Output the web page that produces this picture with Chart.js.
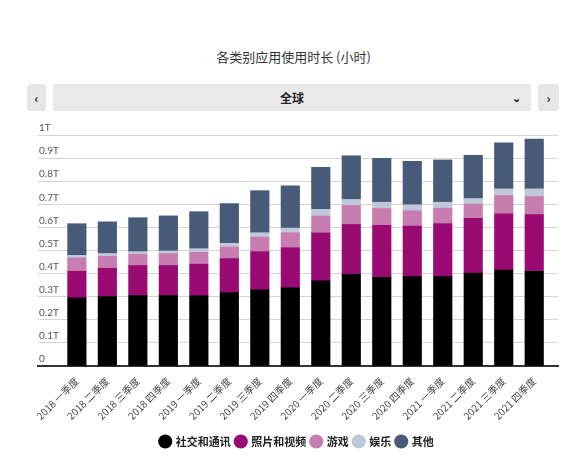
<!DOCTYPE html>
<html lang="zh">
<head>
  <meta charset="UTF-8">
  <title>各类别应用使用时长</title>
  <script src="https://cdn.jsdelivr.net/npm/chart.js"></script>
  <style>
    body { margin: 0; width: 587px; height: 470px; background: #fff; position: relative; overflow: hidden;
           font-family: "Noto Sans CJK SC", "Noto Sans", sans-serif; color: #333; }
    .title { position: absolute; top: 47px; left: 0; width: 587px; text-align: center; font-size: 13px; }
    .btn, .region { position: absolute; top: 84px; height: 27px; background: #e6e6e6; border-radius: 3px;
                    line-height: 27px; text-align: center; font-size: 12px; font-weight: bold; color: #222; }
    .region { left: 53px; width: 478px; background: #e9e9e9; }
    .region .arrow { position: absolute; right: 10px; top: 0; font-size: 11px; }
    #prev { left: 27px; width: 19px; }
    #next { left: 538px; width: 21px; }
    .wrap { position: absolute; left: 0; top: 115px; width: 587px; height: 355px; }
  </style>
</head>
<body>
  <div class="title">各类别应用使用时长 (小时)</div>
  <div class="btn" id="prev">&lsaquo;</div>
  <div class="region">全球<span class="arrow">&#8964;</span></div>
  <div class="btn" id="next">&rsaquo;</div>

  <div class="wrap"><canvas id="usageChart"></canvas></div>

  <script>
    // 季度
    const quarters = [
      '2018 一季度', '2018 二季度', '2018 三季度', '2018 四季度',
      '2019 一季度', '2019 二季度', '2019 三季度', '2019 四季度',
      '2020 一季度', '2020 二季度', '2020 三季度', '2020 四季度',
      '2021 一季度', '2021 二季度', '2021 三季度', '2021 四季度'
    ];

    // 单位：T（小时）
    const social = [0.295, 0.301, 0.305, 0.305, 0.304, 0.318, 0.330, 0.338, 0.369, 0.397, 0.384, 0.387, 0.387, 0.402, 0.415, 0.410];
    const photoVideo = [0.115, 0.122, 0.130, 0.130, 0.137, 0.147, 0.165, 0.174, 0.207, 0.216, 0.225, 0.219, 0.230, 0.237, 0.244, 0.245];
    const games = [0.058, 0.052, 0.049, 0.052, 0.051, 0.050, 0.063, 0.065, 0.073, 0.082, 0.073, 0.066, 0.066, 0.062, 0.079, 0.079];
    const entertainment = [0.011, 0.012, 0.011, 0.011, 0.016, 0.016, 0.019, 0.020, 0.029, 0.026, 0.027, 0.026, 0.026, 0.024, 0.029, 0.033];
    const others = [0.137, 0.137, 0.147, 0.152, 0.160, 0.172, 0.182, 0.183, 0.182, 0.189, 0.190, 0.188, 0.183, 0.187, 0.199, 0.215];

    const yTicks = [0, 0.1, 0.2, 0.3, 0.4, 0.5, 0.6, 0.7, 0.8, 0.9, 1];

    const series = [
      { label: '社交和通讯', data: social, color: '#000000' },
      { label: '照片和视频', data: photoVideo, color: '#990a73' },
      { label: '游戏', data: games, color: '#c87db0' },
      { label: '娱乐', data: entertainment, color: '#bfc8d8' },
      { label: '其他', data: others, color: '#475a78' }
    ];

    const ctx = document.getElementById('usageChart').getContext('2d');

    new Chart(ctx, {
      type: 'bar',
      data: {
        datasets: series.map(s => ({
          label: s.label,
          data: s.data.map((v, i) => ({ x: i, y: v })),
          backgroundColor: s.color,
          borderWidth: 0,
          barThickness: 18.5
        }))
      },
      options: {
        responsive: true,
        maintainAspectRatio: false,
        animation: false,
        layout: { padding: { left: 36, right: 29, top: 20, bottom: 13 } },
        plugins: {
          tooltip: { enabled: false },
          legend: {
            position: 'bottom',
            labels: {
              usePointStyle: true,
              pointStyle: 'circle',
              boxWidth: 10,
              boxHeight: 10,
              padding: 5,
              color: '#222',
              font: { size: 11, weight: 'bold', family: '"Noto Sans CJK SC", sans-serif' }
            }
          }
        },
        scales: {
          x: {
            type: 'linear',
            stacked: true,
            offset: false,
            min: -1.275,
            max: 15.78,
            afterBuildTicks: axis => { axis.ticks = quarters.map((q, i) => ({ value: i })); },
            afterFit: axis => { axis.height = 65; },
            grid: { display: false },
            border: { color: '#333', width: 2 },
            ticks: {
              autoSkip: false,
              maxRotation: 45,
              minRotation: 45,
              padding: 1,
              color: '#444',
              font: { size: 10, family: '"Noto Sans CJK SC", sans-serif' },
              callback: v => quarters[v] ?? ''
            }
          },
          y: {
            stacked: true,
            min: 0,
            max: 1,
            afterBuildTicks: axis => { axis.ticks = yTicks.map(v => ({ value: v })); },
            grid: { color: '#d4d4d4', drawTicks: false },
            border: { display: false },
            ticks: {
              mirror: true,
              padding: 1,
              labelOffset: -7,
              color: '#555',
              font: { size: 10, family: 'Lato, sans-serif' },
              callback: v => v === 0 ? '0' : +v.toFixed(1) + 'T'
            }
          }
        }
      }
    });
  </script>
</body>
</html>
